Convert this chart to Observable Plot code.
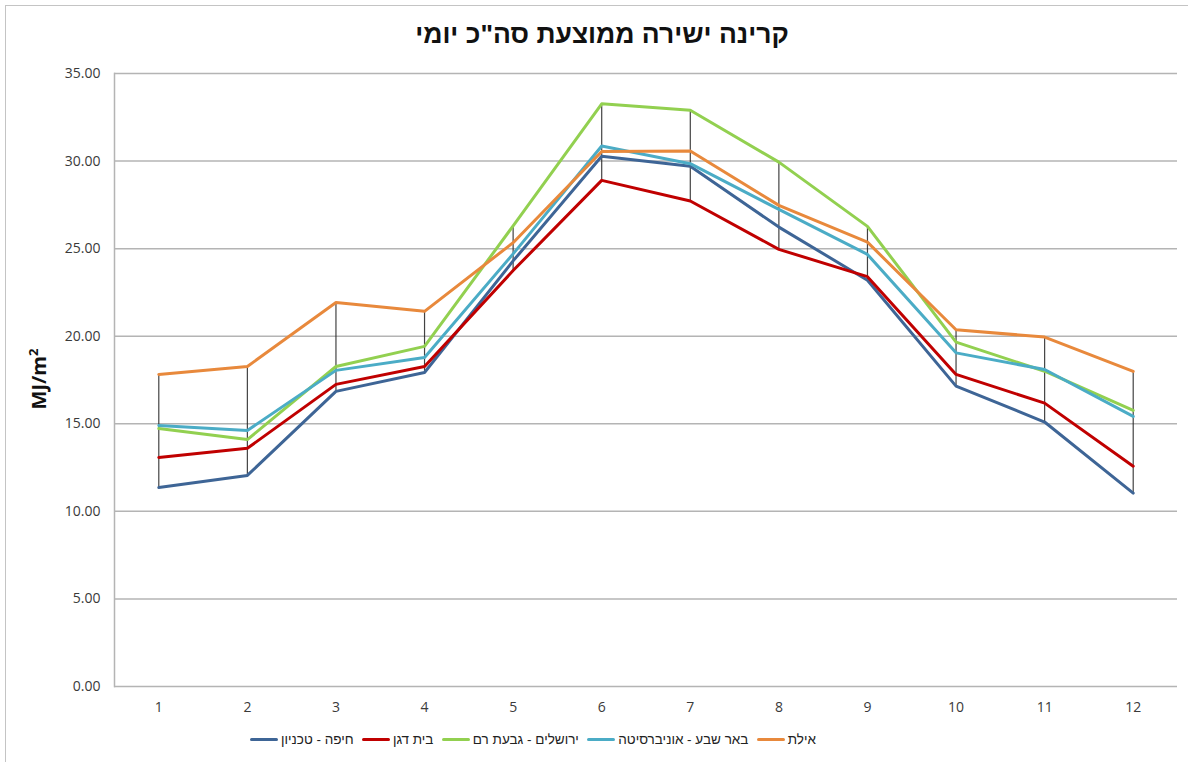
<!DOCTYPE html>
<html><head><meta charset="utf-8">
<script src="https://cdn.jsdelivr.net/npm/d3@7"></script>
<script src="https://cdn.jsdelivr.net/npm/@observablehq/plot@0.6"></script>
<style>
body{margin:0;background:#fff;width:1188px;height:762px;position:relative;overflow:hidden;font-family:"Liberation Sans",Arial,sans-serif;}
#border{position:absolute;left:5px;top:5px;width:1200px;height:800px;border-left:1.5px solid #c4c4c4;border-top:1.5px solid #c4c4c4;}
#title{position:absolute;left:0;top:19px;width:1204px;text-align:center;font-weight:bold;font-size:26.5px;color:#111;direction:rtl;}
#ylabel{position:absolute;left:38px;top:379px;transform:translate(-50%,-50%) rotate(-90deg);font-weight:bold;font-size:20px;color:#111;font-family:"Open Sans","Liberation Sans",sans-serif;white-space:nowrap;}
#chart{position:absolute;left:0;top:0;}
#legend{position:absolute;top:732px;left:250px;width:566px;display:flex;direction:rtl;justify-content:space-between;font-size:13.5px;color:#222;}
.item{display:flex;align-items:center;gap:3px;}
.sw{width:28px;height:3.5px;border-radius:2px;}
</style></head>
<body>
<div id="border"></div>
<div id="chart"></div>
<div id="title">קרינה ישירה ממוצעת סה"כ יומי</div>
<div id="ylabel">MJ/m<sup style="font-size:13px">2</sup></div>
<div id="legend"></div>
<script>
const months = [1,2,3,4,5,6,7,8,9,10,11,12];
const seriesNames = ["חיפה - טכניון","בית דגן","ירושלים - גבעת רם","באר שבע - אוניברסיטה","אילת"];
const seriesColors = ["#3e6596","#c00000","#92d050","#4bacc6","#e8893c"];
const haifa     = [11.36,12.05,16.85,17.93,24.30,30.27,29.70,26.23,23.20,17.15,15.10,11.04];
const beitDagan = [13.08,13.60,17.25,18.27,23.75,28.90,27.72,24.96,23.40,17.82,16.18,12.58];
const jerusalem = [14.73,14.10,18.27,19.42,26.30,33.27,32.90,29.94,26.27,19.66,18.00,15.76];
const beerSheva = [14.90,14.62,18.05,18.79,24.70,30.86,29.85,27.24,24.67,19.05,18.10,15.42];
const eilat     = [17.82,18.27,21.93,21.42,25.34,30.55,30.57,27.47,25.37,20.37,19.95,17.99];
const yTicks = [0,5,10,15,20,25,30,35];

const allSeries = [haifa,beitDagan,jerusalem,beerSheva,eilat];
const rows = [];
allSeries.forEach((vals,i)=>vals.forEach((v,j)=>rows.push({month:months[j],value:v,series:seriesNames[i]})));
const hl = months.map((m,j)=>({month:m,lo:d3.min(allSeries,s=>s[j]),hi:d3.max(allSeries,s=>s[j])}));

const chart = Plot.plot({
  width:1188, height:762,
  marginTop:73, marginBottom:76, marginLeft:114, marginRight:11,
  style:{fontFamily:"'Open Sans','Liberation Sans',sans-serif",fontSize:"14px",color:"#595959",background:"transparent"},
  x:{type:"point",domain:months,padding:0.5,round:false,label:null},
  y:{domain:[0,35],label:null},
  color:{domain:seriesNames,range:seriesColors},
  marks:[
    Plot.ruleY(yTicks,{y:d=>d,stroke:"#b4b4b4",strokeWidth:1.5}),
    Plot.frame({anchor:"left",stroke:"#b4b4b4",strokeWidth:1.5}),
    Plot.axisY(yTicks,{tickSize:0,tickPadding:14,tickFormat:d3.format(".2f"),fill:"#3a3a3a",fontSize:14}),
    Plot.axisX(months,{tickSize:0,tickPadding:16,fill:"#3a3a3a",fontSize:14}),
    Plot.ruleX(hl,{x:"month",y1:"lo",y2:"hi",stroke:"#222",strokeWidth:1.2,strokeOpacity:0.85}),
    Plot.line(rows,{x:"month",y:"value",z:"series",stroke:"series",strokeWidth:3,strokeLinejoin:"round",strokeLinecap:"round"})
  ]
});
document.getElementById("chart").appendChild(chart);

const leg = document.getElementById("legend");
seriesNames.slice().reverse().forEach((n,k)=>{
  const c = seriesColors[seriesColors.length-1-k];
  const it = document.createElement("div"); it.className="item";
  const t = document.createElement("span"); t.textContent=n;
  const s = document.createElement("span"); s.className="sw"; s.style.background=c;
  it.appendChild(t); it.appendChild(s); leg.appendChild(it);
});
</script>
</body></html>
